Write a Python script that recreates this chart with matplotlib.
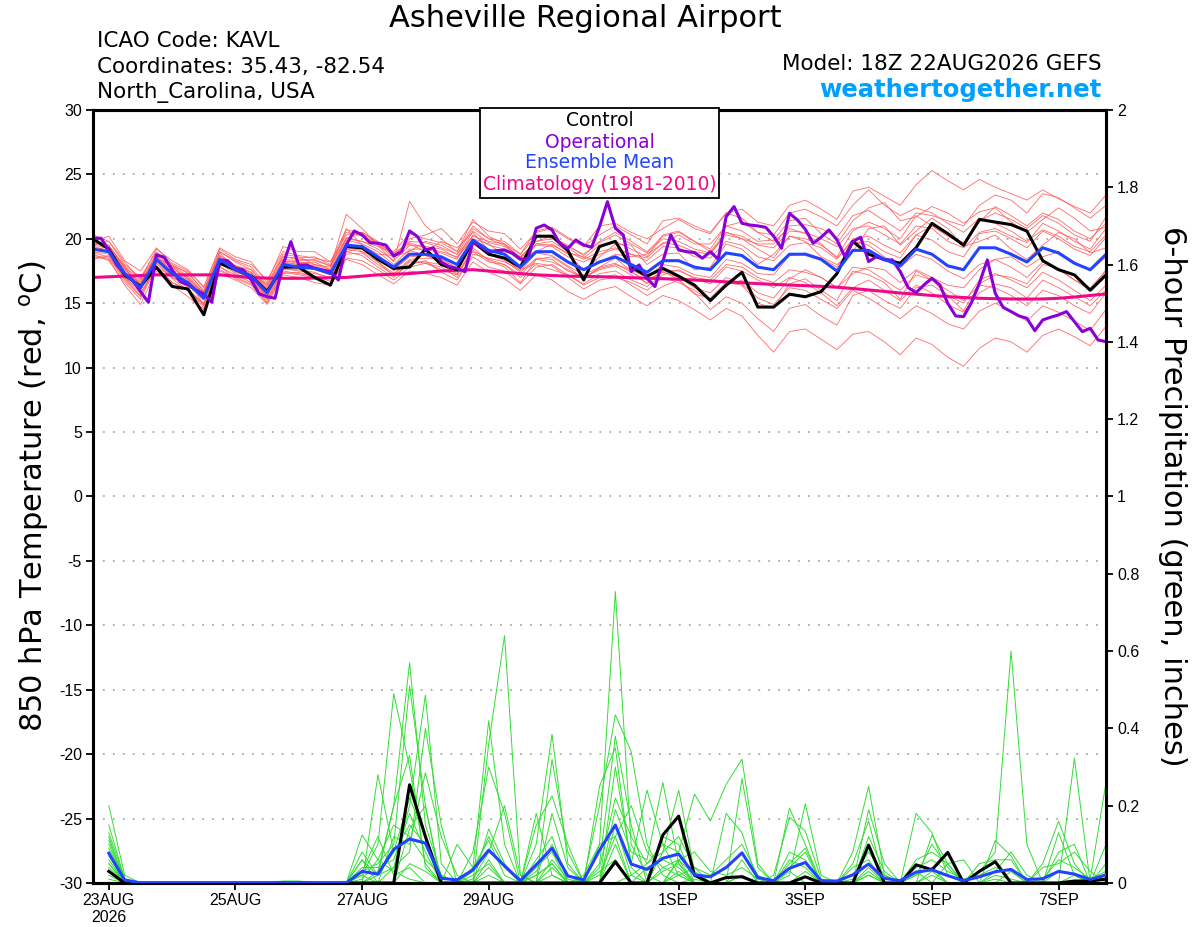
import matplotlib
matplotlib.use("Agg")
import matplotlib.pyplot as plt
from matplotlib.patches import Rectangle
import pandas as pd

plt.rcParams["font.family"] = ["DejaVu Sans"]

# time axes: 6-hourly GEFS, 3-hourly operational
times = pd.date_range("2026-08-22 18:00", periods=65, freq="6h")
op_times = pd.date_range("2026-08-22 18:00", periods=129, freq="3h")
precip_times = times[1:]

tick_dates = pd.to_datetime(["2026-08-23", "2026-08-25", "2026-08-27", "2026-08-29",
                             "2026-09-01", "2026-09-03", "2026-09-05", "2026-09-07"])
tick_labels = ["23AUG\n2026", "25AUG", "27AUG", "29AUG", "1SEP", "3SEP", "5SEP", "7SEP"]

# 850 hPa temperature (C)
control_t = [20.0, 19.2, 17.2, 16.3, 17.8, 16.3, 16.1, 14.1, 18.1, 17.6, 17.1, 15.9, 17.8,
             17.8, 17.0, 16.4, 19.4, 19.3, 18.4, 17.7, 17.8, 19.2, 18.0, 17.6, 19.8, 18.8,
             18.5, 17.8, 20.2, 20.2, 19.1, 16.8, 19.4, 19.8, 17.8, 17.1, 17.7, 17.1, 16.4,
             15.2, 16.4, 17.4, 14.7, 14.7, 15.7, 15.5, 15.9, 17.3, 19.8, 18.8, 18.4, 18.1,
             19.3, 21.2, 20.4, 19.5, 21.5, 21.3, 21.1, 20.6, 18.3, 17.6, 17.2, 16.0, 17.2]

mean_t = [19.2, 19.0, 17.3, 16.2, 18.4, 17.3, 16.6, 15.4, 18.4, 17.6, 17.1, 15.8, 18.0,
          17.8, 17.7, 17.3, 19.5, 19.4, 18.6, 17.8, 18.8, 18.8, 18.6, 18.0, 19.9, 19.1,
          18.8, 17.8, 19.0, 19.0, 18.2, 17.6, 18.2, 18.6, 18.0, 17.4, 18.3, 18.3, 17.8,
          17.6, 18.9, 18.7, 17.8, 17.6, 18.8, 18.8, 18.4, 17.5, 19.1, 19.1, 18.4, 17.9,
          19.2, 18.8, 17.9, 17.6, 19.3, 19.3, 18.8, 18.2, 19.3, 18.9, 18.1, 17.6, 18.8]

clim_t = [17.0, 17.05, 17.1, 17.15, 17.2, 17.2, 17.2, 17.2, 17.2, 17.1, 17.0, 16.95, 16.93,
          16.93, 16.95, 16.98, 17.0, 17.1, 17.2, 17.25, 17.3, 17.4, 17.5, 17.55, 17.6, 17.5,
          17.4, 17.3, 17.2, 17.15, 17.1, 17.08, 17.06, 17.02, 16.98, 16.94, 16.9, 16.86, 16.8,
          16.73, 16.66, 16.59, 16.52, 16.46, 16.41, 16.36, 16.31, 16.24, 16.14, 16.03, 15.91,
          15.79, 15.7, 15.6, 15.51, 15.44, 15.38, 15.35, 15.33, 15.32, 15.33, 15.38, 15.48,
          15.6, 15.72]

oper_t = [20.04, 20.04, 19.13, 17.97, 17.32, 16.8, 15.9, 15.07, 18.75, 18.57, 17.58, 16.68,
          16.42, 16.03, 15.72, 15.07, 18.36, 18.31, 17.71, 17.58, 16.8, 15.72, 15.51, 15.38,
          17.97, 19.78, 17.97, 17.97, 17.71, 17.58, 17.45, 16.8, 19.52, 20.61, 20.3, 19.7,
          19.65, 19.52, 18.67, 19.0, 20.61, 20.17, 19.13, 19.3, 18.2, 17.84, 17.71, 17.45,
          19.78, 19.39, 19.0, 19.08, 19.13, 18.87, 18.41, 18.49, 20.82, 21.07, 20.69, 19.6,
          19.26, 19.91, 19.52, 19.34, 20.94, 22.88, 20.82, 20.3, 17.45, 17.97, 16.93, 16.29,
          18.23, 20.3, 19.13, 19.0, 18.93, 18.49, 19.0, 18.41, 21.72, 22.5, 21.2, 21.07,
          21.0, 20.89, 20.2, 19.26, 21.98, 21.46, 20.74, 19.65, 20.12, 20.69, 19.91, 18.62,
          19.78, 20.12, 18.23, 18.62, 18.36, 18.36, 17.45, 16.21, 15.82, 16.42, 16.94, 16.42,
          14.99, 14.01, 13.96, 15.05, 16.55, 18.36, 15.77, 14.68, 14.35, 14.01, 13.83, 12.87,
          13.7, 13.91, 14.09, 14.35, 13.57, 12.79, 13.05, 12.14, 12.02]

# ensemble members, temperature
member_t01 = [19.6, 19.8, 18.0, 17.0, 19.0, 18.0, 17.3, 16.0, 19.0, 18.3, 17.8, 16.4, 18.6,
              18.5, 18.6, 18.0, 20.5, 20.2, 19.6, 18.5, 20.0, 20.3, 20.8, 19.6, 21.3, 20.6,
              20.4, 19.2, 20.5, 20.8, 20.0, 19.4, 20.3, 21.0, 20.3, 19.6, 21.4, 21.6, 21.0,
              20.5, 22.0, 22.3, 21.3, 21.0, 22.6, 23.0, 22.3, 21.5, 23.7, 24.0, 23.3, 22.6,
              24.2, 25.3, 24.5, 23.8, 24.6, 24.0, 23.5, 23.0, 23.8, 23.1, 22.5, 22.0, 23.4]
member_t02 = [18.6, 18.4, 16.4, 14.9, 17.5, 16.4, 15.5, 14.5, 17.3, 16.8, 16.2, 14.9, 17.2,
              17.0, 16.6, 16.4, 18.4, 18.0, 17.2, 16.5, 17.5, 17.3, 17.0, 16.4, 18.2, 17.4,
              16.9, 16.0, 17.2, 16.8, 15.9, 15.3, 16.0, 16.3, 15.5, 14.8, 15.6, 15.2, 14.5,
              13.7, 14.6, 14.0, 12.5, 11.2, 12.8, 13.0, 12.2, 11.4, 12.6, 12.8, 12.0, 11.0,
              12.3, 11.8, 10.8, 10.1, 11.5, 12.3, 12.0, 11.2, 12.5, 13.0, 12.4, 11.7, 13.2]
member_t03 = [19.4, 19.1, 17.6, 16.5, 18.8, 17.8, 16.9, 15.8, 18.7, 17.9, 17.4, 16.2, 18.3,
              18.2, 18.0, 17.8, 21.9, 20.8, 19.5, 18.2, 22.9, 21.0, 20.0, 19.0, 21.5, 20.2,
              19.6, 18.5, 19.8, 20.0, 19.3, 18.5, 19.5, 19.8, 19.2, 18.6, 20.3, 20.6, 19.8,
              19.0, 20.5, 20.0, 19.2, 18.5, 20.2, 20.0, 19.5, 18.6, 20.6, 21.3, 20.8, 20.0,
              21.8, 21.0, 20.3, 19.7, 21.3, 22.5, 21.8, 21.0, 22.0, 21.5, 20.6, 20.0, 21.2]
member_t04 = [18.9, 18.6, 16.9, 15.6, 18.1, 16.9, 16.0, 14.8, 17.8, 17.2, 16.6, 15.3, 17.5,
              17.3, 17.1, 16.7, 18.8, 18.9, 18.0, 17.2, 18.3, 18.1, 17.6, 17.2, 19.1, 18.4,
              18.0, 17.0, 18.0, 17.6, 17.2, 16.5, 17.3, 17.5, 16.8, 16.3, 17.2, 17.6, 16.9,
              16.5, 17.8, 17.5, 16.8, 16.2, 17.0, 16.6, 15.8, 14.8, 16.2, 16.8, 16.0, 15.2,
              16.4, 15.8, 14.9, 14.3, 15.8, 16.5, 16.2, 15.4, 16.8, 16.2, 15.5, 14.8, 16.0]
member_t05 = [19.8, 20.2, 18.3, 17.5, 19.3, 18.1, 17.5, 16.3, 19.2, 18.4, 18.0, 16.8, 19.0,
              18.7, 18.5, 18.2, 20.3, 20.5, 19.7, 18.8, 19.8, 19.7, 19.3, 18.8, 20.8, 20.0,
              19.8, 18.8, 20.2, 20.1, 19.5, 18.7, 19.8, 20.5, 19.8, 19.0, 20.2, 20.5, 19.8,
              19.2, 21.0, 21.3, 20.5, 20.3, 22.0, 22.3, 21.7, 21.0, 22.6, 23.8, 22.6, 21.8,
              22.4, 22.0, 21.2, 20.5, 21.6, 21.2, 20.6, 19.8, 20.7, 20.2, 19.4, 19.0, 20.3]
member_t06 = [18.8, 18.3, 16.6, 15.3, 17.8, 16.6, 16.1, 14.9, 17.6, 17.0, 16.5, 15.1, 17.4,
              17.2, 17.0, 16.5, 18.5, 18.3, 17.6, 16.8, 17.8, 18.1, 17.8, 17.0, 18.6, 17.8,
              17.5, 16.5, 17.8, 18.0, 17.2, 16.4, 17.0, 17.2, 16.4, 15.6, 16.3, 16.8, 15.8,
              14.5, 15.5, 15.0, 13.8, 12.8, 14.6, 14.9, 14.0, 13.3, 15.6, 16.0, 15.2, 14.6,
              16.2, 16.4, 15.6, 15.0, 16.8, 17.3, 16.8, 16.2, 17.4, 16.8, 16.0, 15.2, 16.4]
member_t07 = [19.5, 19.3, 17.6, 16.7, 18.6, 17.6, 17.0, 15.6, 18.7, 17.9, 17.4, 16.0, 18.3,
              18.1, 18.2, 17.6, 19.9, 19.6, 19.0, 18.0, 19.2, 19.2, 18.9, 18.4, 20.3, 19.5,
              19.2, 18.3, 19.5, 19.4, 18.6, 18.2, 18.8, 19.2, 18.8, 18.3, 19.4, 19.3, 18.6,
              18.5, 19.8, 19.5, 18.6, 18.3, 19.5, 19.7, 19.3, 18.4, 20.0, 20.2, 19.5, 18.9,
              20.3, 19.9, 19.0, 18.6, 20.4, 20.6, 20.0, 19.3, 20.6, 20.0, 19.2, 18.7, 20.1]
member_t08 = [19.0, 18.8, 17.0, 16.0, 18.2, 17.0, 16.4, 15.2, 18.1, 17.3, 16.8, 15.5, 17.7,
              17.5, 17.3, 17.0, 19.2, 19.0, 18.2, 17.3, 18.4, 18.5, 18.4, 17.7, 19.6, 18.8,
              18.3, 17.4, 18.5, 18.4, 17.5, 17.0, 17.7, 18.0, 17.6, 17.0, 18.0, 17.8, 17.2,
              17.0, 18.4, 18.1, 17.3, 17.2, 18.7, 18.9, 18.5, 17.8, 19.6, 19.8, 19.0, 18.5,
              20.3, 21.0, 20.2, 19.6, 21.4, 22.0, 21.5, 20.8, 21.8, 21.2, 20.3, 19.8, 21.7]
member_t09 = [19.0, 19.5, 17.8, 16.0, 18.6, 17.8, 16.9, 14.8, 18.3, 17.5, 17.0, 15.5, 18.2,
              18.0, 17.9, 17.4, 19.7, 19.0, 18.6, 17.5, 19.1, 18.7, 18.2, 17.3, 19.3, 18.3,
              17.8, 16.6, 18.4, 18.6, 17.8, 16.9, 17.8, 18.5, 17.5, 16.5, 17.5, 16.8, 15.7,
              15.4, 16.6, 16.4, 15.0, 14.6, 16.5, 16.9, 16.0, 15.2, 17.5, 17.2, 16.6, 15.3,
              17.5, 16.8, 15.6, 14.4, 16.5, 17.2, 17.0, 16.5, 18.0, 17.7, 16.8, 16.0, 17.6]
member_t10 = [20.3, 19.8, 18.2, 16.8, 19.2, 18.3, 17.6, 16.2, 19.3, 18.6, 18.2, 16.6, 19.4,
              19.0, 19.0, 18.2, 20.7, 20.4, 19.6, 19.0, 20.4, 20.0, 19.7, 19.0, 21.0, 20.0,
              19.5, 18.6, 19.6, 19.8, 19.0, 18.4, 19.0, 19.3, 18.8, 18.5, 19.7, 19.5, 19.0,
              18.8, 20.5, 20.2, 19.5, 19.3, 20.6, 20.5, 20.0, 19.4, 20.8, 21.0, 20.3, 19.6,
              21.0, 20.8, 19.8, 19.3, 20.5, 20.8, 20.2, 19.7, 21.2, 20.6, 19.8, 19.2, 20.8]
member_t11 = [19.3, 18.9, 17.2, 16.2, 18.5, 17.0, 16.4, 15.3, 18.4, 17.4, 17.0, 15.6, 17.9,
              17.9, 17.6, 17.2, 19.3, 19.2, 18.4, 17.6, 18.6, 18.7, 18.5, 17.7, 19.8, 18.9,
              18.5, 17.5, 18.9, 18.7, 17.9, 17.2, 17.8, 18.1, 17.4, 16.8, 17.4, 17.0, 16.2,
              15.8, 17.0, 16.5, 15.4, 14.9, 16.2, 16.0, 15.3, 14.6, 16.0, 15.4, 14.6, 13.8,
              14.8, 14.2, 13.4, 13.0, 14.4, 15.0, 14.4, 13.6, 14.8, 14.3, 13.6, 12.9, 14.5]
member_t12 = [19.7, 19.5, 17.7, 16.4, 18.9, 17.9, 17.1, 15.8, 19.0, 18.2, 17.6, 16.3, 18.6,
              18.4, 18.4, 17.9, 20.0, 19.8, 19.2, 18.3, 19.5, 19.4, 19.2, 18.5, 20.6, 19.7,
              19.4, 18.6, 19.8, 20.2, 19.4, 18.8, 19.7, 20.3, 19.6, 18.9, 20.0, 19.8, 19.2,
              18.9, 20.3, 20.0, 19.6, 19.6, 21.0, 21.1, 20.8, 20.1, 21.8, 22.2, 21.4, 20.6,
              22.0, 21.8, 21.4, 21.0, 22.6, 23.4, 23.0, 22.0, 23.5, 23.2, 22.4, 21.6, 22.6]
member_t13 = [18.7, 18.5, 16.8, 15.5, 17.9, 16.6, 16.0, 15.0, 17.9, 16.9, 16.4, 15.0, 17.3,
              17.4, 17.1, 16.9, 19.0, 18.7, 17.8, 17.0, 18.2, 18.2, 18.0, 17.2, 19.0, 18.2,
              18.0, 17.2, 18.4, 18.2, 17.6, 17.0, 17.6, 17.9, 17.2, 16.6, 17.6, 17.5, 17.0,
              16.8, 18.0, 17.8, 17.0, 16.6, 17.6, 17.4, 17.0, 16.2, 17.8, 17.6, 16.8, 16.0,
              17.2, 16.8, 16.0, 15.2, 16.4, 16.2, 15.6, 14.8, 16.0, 15.6, 14.8, 14.2, 15.8]
member_t14 = [19.1, 19.0, 17.4, 16.6, 18.3, 17.5, 16.8, 15.5, 18.6, 17.8, 17.3, 16.0, 18.1,
              18.0, 17.8, 17.5, 20.0, 20.5, 19.8, 18.6, 19.0, 19.8, 19.5, 18.8, 20.2, 19.8,
              19.6, 18.8, 20.6, 20.9, 20.1, 19.4, 21.0, 21.2, 20.5, 20.0, 20.8, 21.5, 20.8,
              20.4, 22.0, 21.6, 20.5, 19.8, 20.8, 20.4, 19.6, 18.5, 19.8, 19.5, 18.6, 17.8,
              18.8, 18.4, 17.5, 16.9, 18.0, 18.4, 17.8, 17.0, 18.2, 17.6, 16.8, 16.2, 17.5]
member_t15 = [19.9, 19.2, 17.8, 16.9, 18.7, 17.4, 16.6, 15.9, 18.9, 17.7, 17.2, 16.5, 18.8,
              18.6, 18.0, 17.6, 20.8, 19.5, 18.8, 18.7, 19.6, 19.0, 19.8, 19.3, 20.5, 19.1,
              19.0, 18.6, 19.0, 19.6, 18.8, 17.6, 18.6, 19.6, 19.5, 18.0, 18.8, 18.9, 17.6,
              17.8, 19.6, 19.2, 18.0, 18.8, 20.2, 19.8, 18.6, 18.0, 19.0, 20.8, 21.0, 19.5,
              20.6, 21.6, 20.8, 19.4, 19.8, 20.3, 19.2, 18.4, 19.5, 20.5, 20.0, 18.9, 19.3]
member_t16 = [18.4, 18.7, 17.0, 15.8, 17.8, 17.1, 16.2, 14.6, 17.5, 17.0, 16.9, 15.3, 17.6,
              17.6, 17.4, 16.9, 19.0, 19.3, 18.2, 17.1, 18.0, 18.3, 17.4, 16.8, 18.8, 18.5,
              18.2, 17.6, 18.1, 17.9, 17.0, 16.1, 16.8, 17.0, 16.6, 16.0, 17.0, 16.6, 16.0,
              15.2, 16.4, 16.8, 15.8, 15.4, 16.9, 17.6, 17.0, 16.2, 17.3, 17.8, 17.6, 16.6,
              17.6, 17.0, 16.4, 16.2, 17.6, 18.4, 18.6, 17.8, 18.6, 19.0, 18.2, 17.5, 18.6]
member_t17 = [19.6, 19.4, 17.9, 16.4, 18.5, 17.9, 17.4, 15.9, 18.4, 17.9, 17.6, 16.1, 18.4,
              18.3, 18.3, 17.9, 20.1, 19.8, 19.4, 18.9, 19.7, 19.3, 19.0, 18.6, 20.0, 19.6,
              18.7, 17.9, 19.6, 19.5, 18.9, 18.6, 18.2, 18.8, 18.6, 18.8, 19.6, 20.3, 19.6,
              19.6, 21.0, 20.6, 19.8, 19.9, 21.4, 21.6, 20.4, 19.6, 21.4, 22.4, 22.8, 21.4,
              21.7, 22.5, 22.0, 21.2, 22.1, 22.4, 21.3, 20.5, 21.5, 22.4, 21.6, 20.6, 20.9]

members_t = [member_t01, member_t02, member_t03, member_t04, member_t05, member_t06,
             member_t07, member_t08, member_t09, member_t10, member_t11, member_t12,
             member_t13, member_t14, member_t15, member_t16, member_t17]

# 6-hour precipitation (inches), valid from 23AUG 00Z
control_p = [0.03, 0, 0, 0, 0, 0, 0, 0, 0, 0, 0, 0, 0, 0, 0, 0,
             0, 0, 0, 0.254, 0.12, 0, 0, 0, 0, 0, 0, 0, 0, 0, 0, 0,
             0.055, 0, 0, 0.124, 0.173, 0.02, 0, 0.014, 0.016, 0, 0, 0, 0.016, 0, 0, 0,
             0.098, 0, 0, 0.047, 0.034, 0.079, 0, 0.03, 0.055, 0, 0, 0, 0, 0.005, 0.005, 0.01]

mean_p = [0.077, 0.008, 0, 0, 0, 0, 0, 0, 0, 0, 0, 0, 0, 0, 0, 0,
          0.03, 0.023, 0.087, 0.114, 0.103, 0.012, 0.008, 0.034, 0.085, 0.044, 0.006, 0.047,
          0.09, 0.018, 0.008, 0.085,
          0.15, 0.049, 0.035, 0.064, 0.075, 0.021, 0.016, 0.04, 0.078, 0.014, 0.006, 0.038,
          0.053, 0.006, 0.005, 0.021,
          0.049, 0.012, 0.006, 0.028, 0.034, 0.019, 0.006, 0.016, 0.029, 0.035, 0.009, 0.011,
          0.03, 0.023, 0.009, 0.021]

member_p01 = [0.20, 0.02, 0, 0, 0, 0, 0, 0, 0, 0, 0, 0, 0, 0, 0, 0,
              0.02, 0.10, 0.49, 0.30, 0.05, 0, 0, 0.04, 0.42, 0.10, 0, 0, 0.02, 0, 0, 0.10,
              0.754, 0.10, 0.02, 0, 0.03, 0, 0, 0, 0.02, 0, 0, 0.194, 0.10, 0, 0, 0,
              0.02, 0, 0, 0.18, 0.13, 0.02, 0, 0, 0.01, 0, 0, 0, 0, 0.02, 0, 0]
member_p02 = [0.15, 0.01, 0, 0, 0, 0, 0, 0, 0, 0, 0, 0, 0, 0, 0, 0,
              0, 0.03, 0.20, 0.57, 0.15, 0.02, 0, 0, 0.36, 0.64, 0.02, 0, 0, 0, 0.01, 0.20,
              0.435, 0.34, 0.10, 0.02, 0, 0.01, 0, 0, 0, 0, 0, 0.02, 0.205, 0.02, 0, 0,
              0, 0, 0, 0, 0.02, 0, 0, 0.03, 0.08, 0.60, 0.10, 0, 0, 0, 0, 0.02]
member_p03 = [0.13, 0.01, 0, 0, 0, 0, 0, 0, 0, 0, 0, 0, 0, 0, 0, 0,
              0.03, 0.05, 0.10, 0.51, 0.20, 0, 0, 0.08, 0.30, 0.18, 0, 0.02, 0.05, 0, 0, 0.05,
              0.38, 0.15, 0, 0, 0.06, 0.02, 0, 0, 0, 0, 0.02, 0.17, 0.134, 0.01, 0, 0,
              0.04, 0, 0, 0, 0.124, 0.05, 0, 0, 0, 0, 0, 0.05, 0.16, 0.05, 0, 0]
member_p04 = [0.11, 0.01, 0, 0, 0, 0, 0, 0, 0, 0, 0, 0, 0, 0, 0, 0,
              0, 0.02, 0.04, 0.20, 0.486, 0.05, 0, 0, 0.14, 0.05, 0, 0.10, 0.385, 0.05, 0, 0.25,
              0.35, 0.04, 0, 0.03, 0.05, 0, 0, 0, 0.02, 0, 0, 0.05, 0.09, 0, 0, 0,
              0, 0, 0, 0.02, 0.04, 0, 0, 0, 0.11, 0.07, 0, 0, 0, 0, 0, 0]
member_p05 = [0.08, 0, 0, 0, 0, 0, 0, 0, 0, 0, 0, 0, 0, 0, 0, 0,
              0.124, 0.06, 0.03, 0.01, 0, 0, 0, 0, 0.02, 0, 0, 0, 0.32, 0.08, 0, 0,
              0.30, 0.05, 0.24, 0.10, 0.02, 0, 0, 0, 0, 0, 0, 0.08, 0.06, 0, 0, 0,
              0.02, 0, 0, 0.06, 0.08, 0.05, 0, 0, 0.02, 0.01, 0, 0, 0, 0, 0, 0]
member_p06 = [0.06, 0, 0, 0, 0, 0, 0, 0, 0, 0, 0, 0, 0, 0, 0, 0,
              0, 0.28, 0.08, 0.15, 0.10, 0, 0, 0, 0.04, 0, 0, 0.15, 0.225, 0.10, 0, 0,
              0.19, 0.08, 0.06, 0.26, 0.05, 0, 0, 0, 0, 0, 0, 0, 0.03, 0, 0, 0.08,
              0.25, 0.02, 0, 0, 0.03, 0, 0, 0.05, 0.06, 0.06, 0, 0, 0, 0, 0, 0]
member_p07 = [0.04, 0, 0, 0, 0, 0, 0, 0, 0, 0, 0, 0, 0, 0, 0, 0,
              0.08, 0.02, 0.20, 0.33, 0.04, 0, 0.10, 0.04, 0.11, 0.02, 0, 0, 0, 0, 0.02, 0.10,
              0.12, 0, 0, 0.08, 0.24, 0.03, 0, 0, 0, 0, 0, 0, 0, 0, 0, 0,
              0.19, 0.05, 0, 0, 0, 0, 0, 0, 0, 0, 0, 0, 0.13, 0.02, 0, 0]
member_p08 = [0.03, 0, 0, 0, 0, 0, 0, 0, 0, 0, 0, 0, 0, 0, 0, 0,
              0.06, 0, 0.12, 0.10, 0.285, 0.12, 0.02, 0, 0, 0, 0, 0.06, 0.12, 0, 0, 0,
              0, 0.02, 0.05, 0.10, 0.08, 0.23, 0.16, 0.255, 0.32, 0.05, 0, 0, 0, 0, 0, 0.05,
              0.16, 0, 0, 0, 0, 0, 0, 0, 0, 0, 0, 0, 0, 0.323, 0, 0.05]
member_p09 = [0.02, 0, 0, 0, 0, 0, 0, 0, 0, 0, 0, 0, 0, 0, 0, 0,
              0.04, 0.04, 0.06, 0.18, 0.08, 0, 0, 0, 0, 0, 0, 0.18, 0.02, 0, 0, 0,
              0.05, 0, 0, 0.12, 0.10, 0, 0, 0, 0.27, 0.04, 0, 0, 0, 0, 0, 0,
              0.12, 0.03, 0, 0, 0, 0, 0, 0, 0, 0, 0, 0, 0, 0, 0.01, 0.26]
member_p10 = [0.01, 0, 0, 0, 0, 0, 0, 0, 0, 0, 0, 0, 0, 0, 0, 0,
              0, 0, 0.04, 0.08, 0.40, 0.15, 0, 0, 0, 0, 0, 0, 0.18, 0.04, 0, 0,
              0, 0, 0, 0, 0.06, 0, 0, 0.18, 0.13, 0, 0, 0, 0, 0, 0, 0.04,
              0.06, 0, 0, 0, 0, 0, 0, 0, 0, 0, 0, 0, 0.08, 0.10, 0, 0]
member_p11 = [0.05, 0, 0, 0, 0, 0, 0, 0, 0, 0, 0, 0, 0, 0, 0, 0,
              0.02, 0, 0, 0.05, 0.03, 0, 0, 0, 0.06, 0, 0, 0.04, 0.08, 0, 0, 0,
              0.10, 0, 0.04, 0.06, 0.04, 0, 0, 0, 0, 0, 0, 0, 0, 0, 0, 0,
              0, 0, 0, 0, 0, 0.05, 0.06, 0, 0, 0, 0, 0.04, 0.05, 0.08, 0.03, 0]
member_p12 = [0.09, 0.01, 0, 0, 0, 0, 0, 0, 0, 0, 0, 0.005, 0.005, 0, 0, 0,
              0.03, 0.12, 0.02, 0.04, 0, 0, 0, 0.02, 0.05, 0, 0, 0, 0.04, 0, 0, 0.03,
              0.06, 0, 0, 0.04, 0.02, 0.04, 0, 0, 0.06, 0, 0, 0, 0, 0, 0, 0,
              0.03, 0, 0, 0.03, 0, 0, 0, 0, 0, 0.03, 0, 0, 0, 0, 0, 0]
member_p13 = [0.07, 0, 0, 0, 0, 0, 0, 0, 0, 0, 0, 0, 0, 0, 0, 0,
              0, 0, 0, 0, 0, 0, 0, 0, 0, 0, 0, 0.02, 0.05, 0, 0, 0,
              0.15, 0.02, 0, 0, 0.02, 0, 0, 0, 0, 0, 0, 0.03, 0, 0, 0, 0,
              0, 0, 0, 0, 0, 0, 0, 0, 0, 0, 0, 0, 0, 0, 0, 0]
member_p14 = [0.12, 0, 0, 0, 0, 0, 0, 0, 0, 0, 0, 0, 0, 0, 0, 0,
              0, 0, 0, 0.14, 0.20, 0, 0, 0, 0, 0, 0, 0, 0, 0, 0, 0,
              0.06, 0, 0, 0, 0, 0, 0, 0, 0, 0, 0, 0, 0, 0, 0, 0,
              0, 0, 0, 0, 0, 0, 0, 0, 0, 0, 0, 0, 0, 0, 0, 0.10]
member_p15 = [0.05, 0, 0, 0, 0, 0, 0, 0, 0, 0, 0, 0, 0, 0, 0, 0,
              0.01, 0.06, 0.15, 0.12, 0.06, 0.02, 0, 0.03, 0.12, 0.04, 0, 0.03, 0.10, 0.02, 0, 0.04,
              0.22, 0.12, 0.05, 0.08, 0.12, 0.04, 0.02, 0.06, 0.10, 0.02, 0, 0.06, 0.04, 0, 0, 0.02,
              0.08, 0.02, 0, 0.04, 0.06, 0.03, 0.01, 0.02, 0.04, 0.03, 0, 0.01, 0.06, 0.04, 0.01, 0.03]
member_p16 = [0.10, 0.01, 0, 0, 0, 0, 0, 0, 0, 0, 0, 0, 0, 0, 0, 0,
              0.06, 0.02, 0.08, 0.22, 0.12, 0.02, 0, 0.01, 0.08, 0.20, 0.02, 0, 0.06, 0.01, 0, 0.02,
              0.12, 0.20, 0.08, 0.04, 0.06, 0.08, 0.03, 0.02, 0.04, 0.01, 0, 0.04, 0.08, 0, 0, 0.01,
              0.05, 0, 0, 0.02, 0.10, 0.04, 0, 0, 0.03, 0.08, 0.02, 0, 0.03, 0.02, 0, 0.02]

members_p = [member_p01, member_p02, member_p03, member_p04, member_p05, member_p06,
             member_p07, member_p08, member_p09, member_p10, member_p11, member_p12,
             member_p13, member_p14, member_p15, member_p16]

RED = "#ff5a5a"
GREEN = "#33dd33"
PURPLE = "#8a00d8"
BLUE = "#2244ff"
MAGENTA = "#f0088a"

fig = plt.figure(figsize=(12, 9.27), dpi=100)
ax = fig.add_axes([0.0775, 0.0475, 0.8442, 0.8339])
ax2 = ax.twinx()

# temperature
for m in members_t:
    ax.plot(times, m, color=RED, lw=0.6, alpha=0.9, zorder=2)
ax.plot(times, clim_t, color=MAGENTA, lw=2.2, zorder=3)
ax.plot(times, control_t, color="black", lw=2.2, zorder=4)
ax.plot(op_times, oper_t, color=PURPLE, lw=2.2, zorder=5)
ax.plot(times, mean_t, color=BLUE, lw=2.2, zorder=6)

# precipitation
for m in members_p:
    ax2.plot(precip_times, m, color=GREEN, lw=0.7, zorder=2)
ax2.plot(precip_times, control_p, color="black", lw=2.2, zorder=3)
ax2.plot(precip_times, mean_p, color=BLUE, lw=2.2, zorder=4)

ax.set_xlim(times[0], times[-1])
ax.set_ylim(-30, 30)
ax2.set_ylim(0, 2)

ax.set_yticks(range(-30, 31, 5))
ax.set_yticklabels([str(v) for v in range(-30, 31, 5)])
ax.yaxis.grid(True, color="#aaaaaa", linestyle=(0, (1, 4.5)), lw=1.3)
ax.set_axisbelow(True)

p_ticks = [i / 5 for i in range(11)]
ax2.set_yticks(p_ticks)
ax2.set_yticklabels([f"{v:g}" for v in p_ticks])

ax.set_xticks(tick_dates)
ax.set_xticklabels(tick_labels)

for a in (ax, ax2):
    a.tick_params(direction="out", length=5, width=1.3, labelsize=11.5, pad=3)
    for lab in a.get_xticklabels() + a.get_yticklabels():
        lab.set_family(["Liberation Sans", "DejaVu Sans"])
    for s in a.spines.values():
        s.set_linewidth(2.2)
ax.tick_params(axis="x", length=5, pad=2)

ax.set_ylabel("850 hPa Temperature (red, $^{\\mathrm{o}}$C)", fontsize=22, va="center")
ax.yaxis.set_label_coords(-0.058, 0.5)
ax2.set_ylabel("6-hour Precipitation (green, inches)", fontsize=22, rotation=270,
               va="center")
ax2.yaxis.set_label_coords(1.066, 0.5)

# legend box
ax2.add_patch(Rectangle((0.382, 0.886), 0.236, 0.117, transform=ax2.transAxes,
                        facecolor="white", edgecolor="black", lw=1.3, zorder=10,
                        clip_on=False))
leg = [("Control", "black", 0.986), ("Operational", PURPLE, 0.9585),
       ("Ensemble Mean", BLUE, 0.9315), ("Climatology (1981-2010)", MAGENTA, 0.903)]
for txt, col, yy in leg:
    ax2.text(0.5, yy, txt, color=col, fontsize=13.5, ha="center", va="center",
             transform=ax2.transAxes, zorder=11)

# header text
fig.text(0.488, 0.980, "Asheville Regional Airport", fontsize=22, ha="center", va="center")
fig.text(0.081, 0.956, "ICAO Code: KAVL", fontsize=15.5, ha="left", va="center")
fig.text(0.081, 0.928, "Coordinates: 35.43, -82.54", fontsize=15.5, ha="left", va="center")
fig.text(0.081, 0.900, "North_Carolina, USA", fontsize=15.5, ha="left", va="center")
fig.text(0.918, 0.931, "Model: 18Z 22AUG2026 GEFS", fontsize=15.5, ha="right", va="center")
fig.text(0.918, 0.903, "weathertogether.net", fontsize=17.5, fontweight="bold",
         color="#00a0ff", ha="right", va="center")

fig.savefig("out.png", dpi=100)
